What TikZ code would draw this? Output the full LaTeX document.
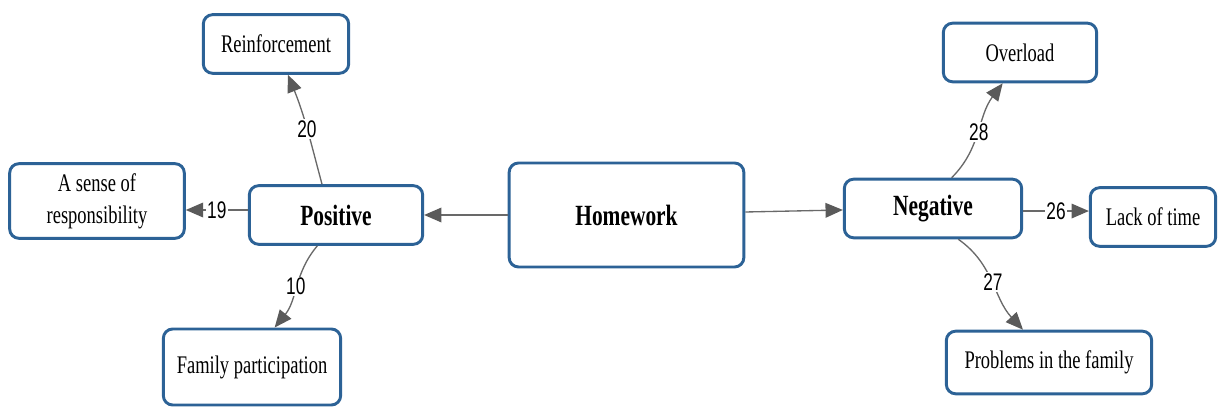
\documentclass[tikz,border=0pt]{standalone}
\usepackage{fontspec}
\setmainfont[FakeStretch=0.73]{Liberation Serif}
\newfontfamily\numfont[FakeStretch=0.72]{Liberation Sans}
\usetikzlibrary{arrows.meta}

\definecolor{boxblue}{RGB}{44,98,150}
\definecolor{linkgray}{RGB}{105,105,105}
\definecolor{tipgray}{RGB}{90,90,90}

\tikzset{every picture/.style={line width=0.75pt}}
\tikzset{
	idea/.style={draw=boxblue, line width=2.2pt, rounded corners=7pt, fill=white, align=center, inner sep=0pt, font=\fontsize{19}{24}\selectfont},
	hub/.style={idea, font=\fontsize{22}{26}\selectfont\bfseries},
	link/.style={draw=linkgray, line width=1pt, -{Triangle[length=13pt,width=11pt,color=tipgray]}},
	tally/.style={fill=white, inner sep=1pt, font=\numfont\fontsize{18}{20}\selectfont},
}

\begin{document}
\begin{tikzpicture}[x=0.75pt,y=0.75pt,yscale=-1,xscale=1]
	\useasboundingbox (0,0) rectangle (1218,409);

	% Centre
	\node[hub, minimum width=176pt, minimum height=78pt] (homework) at (626.5,215) {Homework};
	% Positive side
	\node[hub, minimum width=130pt, minimum height=44pt] (positive) at (336,215) {Positive};
	\node[idea, minimum width=109pt, minimum height=44pt] (reinforce) at (276,44) {Reinforcement};
	\node[idea, minimum width=131pt, minimum height=56pt] (sense) at (97,201) {A sense of\\responsibility};
	\node[idea, minimum width=133pt, minimum height=57pt] (family) at (252,367) {Family participation};
	% Negative side
	\node[hub, minimum width=133pt, minimum height=44pt] (negative) at (933,208.5) {Negative};
	\node[idea, minimum width=115pt, minimum height=44pt] (overload) at (1020,52.5) {Overload};
	\node[idea, minimum width=94pt, minimum height=44pt] (lack) at (1153,217) {Lack of time};
	\node[idea, minimum width=154pt, minimum height=47pt] (problems) at (1049,362.5) {Problems in the family};

	% Links
	\draw[link] (homework.west) -- (positive.east);
	\draw[link] ([yshift=-2.25pt]homework.east) -- ([yshift=1.1pt]negative.west);

	\draw[link] ([xshift=-10.5pt]positive.north) to[out=-105,in=68] node[tally] {20} ([xshift=9pt]reinforce.south);
	\draw[link] ([yshift=-3.75pt]positive.west) -- node[tally] {19} ([yshift=-3.75pt]positive.west -| sense.east);
	\draw[link] ([xshift=-14pt]positive.south) to[out=130,in=-51] node[tally] {10} ([xshift=17pt]family.north);

	\draw[link] ([xshift=14pt]negative.north) to[out=-45,in=127] node[tally] {28} ([xshift=-13pt]overload.south);
	\draw[link] ([yshift=1.9pt]negative.east) -- node[tally] {26} ([yshift=1.9pt]negative.east -| lack.west);
	\draw[link] ([xshift=19pt]negative.south) to[out=35,in=-133] node[tally] {27} ([xshift=-19.5pt]problems.north);

\end{tikzpicture}
\end{document}
